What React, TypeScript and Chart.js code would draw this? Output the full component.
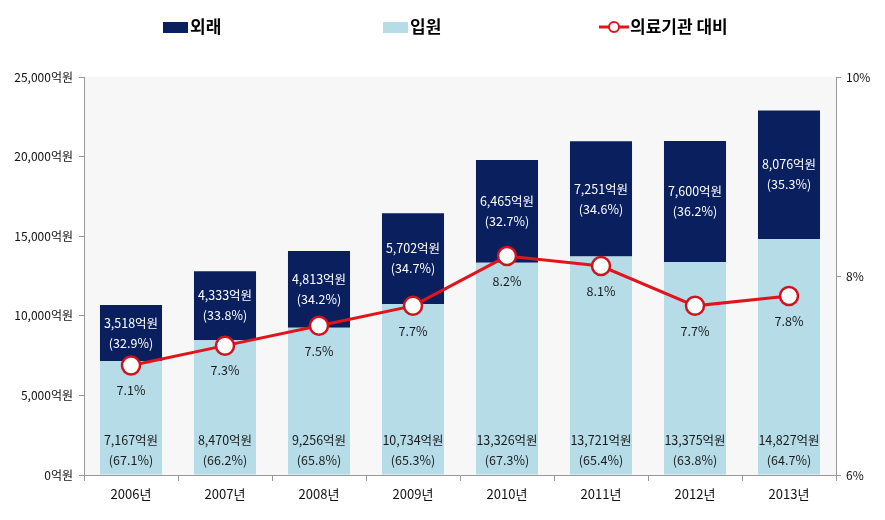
import React, { useEffect, useRef } from 'react';
import { Chart, registerables } from 'chart.js';

Chart.register(...registerables);

const years = ['2006년', '2007년', '2008년', '2009년', '2010년', '2011년', '2012년', '2013년'];
const inpatient = [7167, 8470, 9256, 10734, 13326, 13721, 13375, 14827];
const outpatient = [3518, 4333, 4813, 5702, 6465, 7251, 7600, 8076];
const inpatientShare = [67.1, 66.2, 65.8, 65.3, 67.3, 65.4, 63.8, 64.7];
const outpatientShare = [32.9, 33.8, 34.2, 34.7, 32.7, 34.6, 36.2, 35.3];
const ratio = [7.1, 7.3, 7.5, 7.7, 8.2, 8.1, 7.7, 7.8];

const legendLabels = ['외래', '입원', '의료기관 대비'];

const NAVY = '#0a205e';
const LIGHT = '#b6dce7';
const RED = '#e3131c';
const FONT = '"Noto Sans CJK KR", "Noto Sans", sans-serif';

const fmt = (v: number) => v.toLocaleString('en-US') + '억원';

const bgPlugin = {
  id: 'bgPlugin',
  beforeDraw(chart: any) {
    const { ctx, chartArea } = chart;
    ctx.save();
    ctx.fillStyle = '#f7f7f7';
    ctx.fillRect(chartArea.left, chartArea.top, chartArea.right - chartArea.left, chartArea.bottom - chartArea.top);
    ctx.restore();
  },
};

const legendPlugin = {
  id: 'legendPlugin',
  afterDraw(chart: any) {
    const { ctx } = chart;
    ctx.save();
    ctx.font = `bold 17px ${FONT}`;
    ctx.textBaseline = 'middle';
    ctx.textAlign = 'left';
    const cy = 27;
    ctx.fillStyle = NAVY;
    ctx.fillRect(163, cy - 5, 25, 11);
    ctx.fillStyle = '#000';
    ctx.fillText(legendLabels[0], 190, cy);
    ctx.fillStyle = LIGHT;
    ctx.fillRect(383, cy - 5, 25, 11);
    ctx.fillStyle = '#000';
    ctx.fillText(legendLabels[1], 410, cy);
    ctx.strokeStyle = RED;
    ctx.lineWidth = 3;
    ctx.beginPath();
    ctx.moveTo(599, cy);
    ctx.lineTo(629, cy);
    ctx.stroke();
    ctx.beginPath();
    ctx.arc(614, cy, 5, 0, Math.PI * 2);
    ctx.fillStyle = '#fff';
    ctx.fill();
    ctx.lineWidth = 2;
    ctx.stroke();
    ctx.fillStyle = '#000';
    ctx.fillText(legendLabels[2], 630, cy);
    ctx.restore();
  },
};

const labelPlugin = {
  id: 'labelPlugin',
  afterDatasetsDraw(chart: any) {
    const { ctx } = chart;
    ctx.save();
    ctx.font = `12.5px ${FONT}`;
    ctx.textAlign = 'center';
    ctx.textBaseline = 'middle';
    const inMeta = chart.getDatasetMeta(0);
    const outMeta = chart.getDatasetMeta(1);
    const lineMeta = chart.getDatasetMeta(2);
    inMeta.data.forEach((el: any, i: number) => {
      const base = el.base;
      ctx.fillStyle = '#1a1a1a';
      ctx.fillText(fmt(inpatient[i]), el.x, base - 34);
      ctx.fillText(`(${inpatientShare[i].toFixed(1)}%)`, el.x, base - 14);
    });
    outMeta.data.forEach((el: any, i: number) => {
      const c = (el.y + el.base) / 2;
      ctx.fillStyle = '#ffffff';
      ctx.fillText(fmt(outpatient[i]), el.x, c - 10);
      ctx.fillText(`(${outpatientShare[i].toFixed(1)}%)`, el.x, c + 10);
    });
    lineMeta.data.forEach((el: any, i: number) => {
      ctx.fillStyle = '#1a1a1a';
      ctx.fillText(`${ratio[i].toFixed(1)}%`, el.x, el.y + 25);
    });
    ctx.restore();
  },
};

export default function App() {
  const ref = useRef<HTMLCanvasElement | null>(null);
  useEffect(() => {
    if (!ref.current) return;
    const chart = new Chart(ref.current, {
      type: 'bar',
      data: {
        labels: years,
        datasets: [
          {
            type: 'bar',
            label: '입원',
            data: inpatient,
            backgroundColor: LIGHT,
            stack: 's',
            yAxisID: 'y',
            order: 1,
            categoryPercentage: 1,
            barPercentage: 0.66,
          },
          {
            type: 'bar',
            label: '외래',
            data: outpatient,
            backgroundColor: NAVY,
            stack: 's',
            yAxisID: 'y',
            order: 1,
            categoryPercentage: 1,
            barPercentage: 0.66,
          },
          {
            type: 'line',
            label: '의료기관 대비',
            data: ratio,
            borderColor: RED,
            borderWidth: 3,
            pointRadius: 9,
            pointBorderWidth: 2.5,
            pointBackgroundColor: '#ffffff',
            pointBorderColor: '#d0121c',
            yAxisID: 'y1',
            order: 0,
            tension: 0,
          } as any,
        ],
      },
      options: {
        animation: false,
        responsive: true,
        maintainAspectRatio: false,
        layout: { padding: { top: 77, left: 0, right: 0, bottom: 0 } },
        plugins: {
          legend: { display: false },
          tooltip: { enabled: false },
        },
        scales: {
          x: {
            stacked: true,
            grid: { display: true, drawOnChartArea: false, drawTicks: true, tickLength: 6, color: '#999', offset: true },
            border: { display: true, color: '#999' },
            ticks: { color: '#111', font: { family: FONT, size: 13 }, padding: 5 },
            afterFit: (s: any) => { s.height = 45; },
          },
          y: {
            stacked: true,
            position: 'left',
            min: 0,
            max: 25000,
            ticks: {
              stepSize: 5000,
              color: '#111',
              font: { family: FONT, size: 12 },
              padding: 6,
              callback: (v: any) => fmt(Number(v)),
            },
            grid: { display: true, drawOnChartArea: false, drawTicks: true, tickLength: 5, color: '#999' },
            border: { display: true, color: '#999' },
            afterFit: (s: any) => { s.width = 84; },
          },
          y1: {
            position: 'right',
            min: 6,
            max: 10,
            ticks: {
              stepSize: 2,
              color: '#111',
              font: { family: FONT, size: 12 },
              padding: 5,
              callback: (v: any) => `${v}%`,
            },
            grid: { display: true, drawOnChartArea: false, drawTicks: true, tickLength: 5, color: '#999' },
            border: { display: true, color: '#999' },
            afterFit: (s: any) => { s.width = 49; },
          },
        },
      },
      plugins: [bgPlugin, legendPlugin, labelPlugin],
    });
    return () => chart.destroy();
  }, []);
  return (
    <div style={{ position: 'fixed', left: 0, top: 0, width: 885, height: 520 }}>
      <canvas ref={ref} />
    </div>
  );
}
